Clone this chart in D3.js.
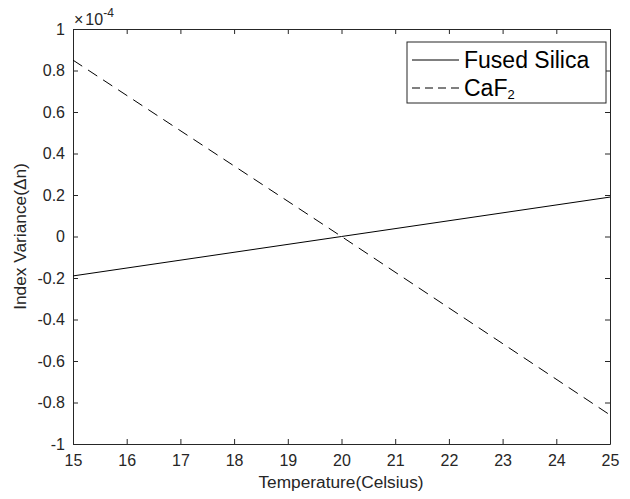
<!DOCTYPE html>
<html><head><meta charset="utf-8">
<script src="https://cdn.jsdelivr.net/npm/d3@7"></script>
<style>body{margin:0;background:#fff}svg{display:block;font-family:"Liberation Sans",Arial,sans-serif}</style>
</head><body><svg id="c" width="630" height="499"></svg>
<script>
const temps = [15, 20, 25];
const fusedSilica = [-0.19, 0.0, 0.19];
const caf2 = [0.85, 0.0, -0.86];
const xTicks = [15,16,17,18,19,20,21,22,23,24,25];
const yTicks = [-1,-0.8,-0.6,-0.4,-0.2,0,0.2,0.4,0.6,0.8,1];

const svg = d3.select("#c");
const L=73, R=610, T=29, B=444;
const x = d3.scaleLinear().domain([15,25]).range([L,R]);
const y = d3.scaleLinear().domain([-1,1]).range([B,T]);
const axc = "#262626";

const gx = svg.append("g").attr("transform",`translate(0,${B})`)
  .call(d3.axisBottom(x).tickValues(xTicks).tickSize(-5).tickSizeOuter(0).tickPadding(11).tickFormat(d3.format("d")));
const gx2 = svg.append("g").attr("transform",`translate(0,${T})`)
  .call(d3.axisTop(x).tickValues(xTicks).tickSize(-5).tickSizeOuter(0).tickFormat(""));
const gy = svg.append("g").attr("transform",`translate(${L},0)`)
  .call(d3.axisLeft(y).tickValues(yTicks).tickSize(-5).tickSizeOuter(0).tickPadding(8).tickFormat(d=>String(d)));
const gy2 = svg.append("g").attr("transform",`translate(${R},0)`)
  .call(d3.axisRight(y).tickValues(yTicks).tickSize(-5).tickSizeOuter(0).tickFormat(""));
[gx,gx2,gy,gy2].forEach(g=>{
  g.selectAll("path,line").attr("stroke",axc).attr("stroke-width",1);
  g.selectAll("text").attr("fill",axc).attr("font-size",16).attr("font-family","Liberation Sans, Arial, sans-serif");
});

const line = d3.line().x((d,i)=>x(temps[i])).y(d=>y(d));
svg.append("path").datum(fusedSilica).attr("d",line).attr("fill","none").attr("stroke","#000").attr("stroke-width",1);
svg.append("path").datum(caf2).attr("d",line).attr("fill","none").attr("stroke","#000").attr("stroke-width",1).attr("stroke-dasharray","11,7");

// exponent label
const ex = svg.append("text").attr("x",L+1).attr("y",T-4).attr("fill",axc).attr("font-size",16);
ex.append("tspan").text("\u00d7");
ex.append("tspan").attr("dx",2).text("10");
ex.append("tspan").attr("dy",-8).attr("font-size",12).text("-4");

// axis titles
svg.append("text").attr("x",(L+R)/2 - 0.5).attr("y",488).attr("text-anchor","middle").attr("fill",axc).attr("font-size",17.3).text("Temperature(Celsius)");
svg.append("text").attr("transform",`translate(26,${(T+B)/2}) rotate(-90)`).attr("text-anchor","middle").attr("fill",axc).attr("font-size",17.3).text("Index Variance(\u0394n)");

// legend
const lg = svg.append("g");
lg.append("rect").attr("x",407).attr("y",42).attr("width",199).attr("height",61).attr("fill","#fff").attr("stroke",axc).attr("stroke-width",1);
lg.append("line").attr("x1",412).attr("x2",459).attr("y1",60).attr("y2",60).attr("stroke","#000");
lg.append("line").attr("x1",412).attr("x2",459).attr("y1",88).attr("y2",88).attr("stroke","#000").attr("stroke-dasharray","8,5");
lg.append("text").attr("x",464).attr("y",68).attr("font-size",23).attr("fill","#000").text("Fused Silica");
const t2 = lg.append("text").attr("x",464).attr("y",96).attr("font-size",23).attr("fill","#000");
t2.append("tspan").text("CaF");
t2.append("tspan").attr("font-size",13).attr("dy",3).text("2");
</script></body></html>
